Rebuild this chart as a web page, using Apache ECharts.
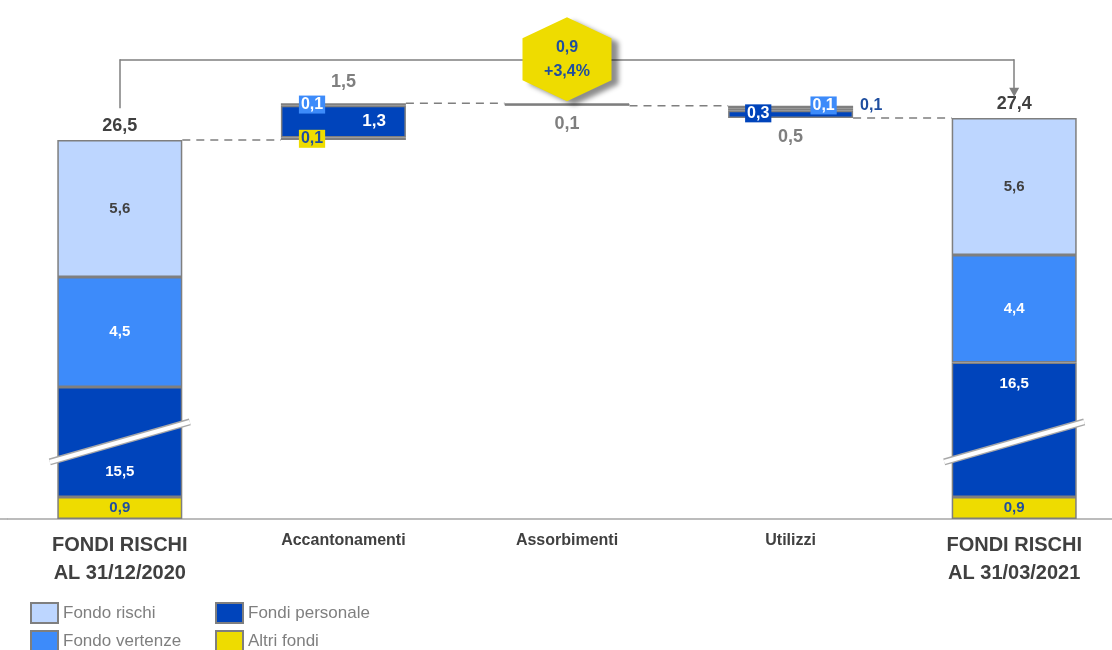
<!DOCTYPE html>
<html>
<head>
<meta charset="utf-8">
<script src="https://cdn.jsdelivr.net/npm/echarts@6/dist/echarts.min.js"></script>
<style>
  html, body { margin: 0; padding: 0; background: #fff; }
  #chart { width: 1112px; height: 650px; }
</style>
</head>
<body>
<div id="chart"></div>
<script>
// data
const categories = ["FONDI RISCHI\nAL 31/12/2020", "Accantonamenti", "Assorbimenti", "Utilizzi", "FONDI RISCHI\nAL 31/03/2021"];
const altriFondi = [0.9, 0.1, null, null, 0.9];
const fondiPersonale = [15.5, 1.3, null, 0.3, 16.5];
const fondoVertenze = [4.5, 0.1, null, 0.1, 4.4];
const fondoRischi = [5.6, null, null, 0.1, 5.6];
const assorbimenti = [null, null, 0.1, null, null];
const totals = [26.5, 1.5, 0.1, 0.5, 27.4];
const stepSign = [0, 1, -1, -1, 0]; // 0 = stock bar, +1 increase, -1 decrease
const deltaValue = "0,9";
const deltaPct = "+3,4%";

// amount cut out of the "Fondi personale" segment by the axis break
const BREAK = 11;
const BAR_W = 125;
const FONT = "Liberation Sans";
const BORDER = "#7F7F7F";
const C_RISCHI = "#BDD6FF", C_VERT = "#3D8BFA", C_PERS = "#0044BB", C_ALTRI = "#EEDC00";
const TXT_BLUE = "#1F4E9F";

const fmt = v => v.toFixed(1).replace(".", ",");

// running totals for the floating bars
const base = [];
const tops = [];
let running = 0;
totals.forEach((t, i) => {
  if (stepSign[i] === 0) { base.push(0); running = t; }
  else if (stepSign[i] > 0) { base.push(running - BREAK); running += t; }
  else { running -= t; base.push(running - BREAK); }
  tops.push(running - BREAK);
});

const isStock = i => stepSign[i] === 0;
const plotted = (v, i, cut) => (v == null ? "-" : (cut && isStock(i) ? v - BREAK : v));

const boxLabel = (bg, color) => ({
  show: true, backgroundColor: bg, color: color, padding: [2, 2, 0, 2],
  fontSize: 16, fontWeight: "bold", fontFamily: FONT
});

function segSeries(name, vals, color, labelFor, cut) {
  return {
    name: name, type: "bar", stack: "w", barWidth: BAR_W, z: 3,
    itemStyle: { color: color, borderColor: BORDER, borderWidth: 1.5 },
    data: vals.map((v, i) => {
      const p = plotted(v, i, cut);
      if (p === "-") return "-";
      return { value: p, label: Object.assign({ formatter: () => fmt(v) }, labelFor(i)) };
    })
  };
}

const stockLabel = (color) => ({ show: true, position: "inside", color: color, fontSize: 15, fontWeight: "bold", fontFamily: FONT });

const series = [
  {
    name: "base", type: "bar", stack: "w", barWidth: BAR_W, z: 3,
    itemStyle: { color: "transparent" },
    data: base.map((b, i) => ({
      value: b,
      label: stepSign[i] < 0 ? {
        show: true, position: "insideTop", distance: i === 2 ? 9 : 10,
        formatter: fmt(totals[i]), color: "#7F7F7F", fontSize: 18, fontWeight: "bold", fontFamily: FONT
      } : { show: false }
    }))
  },
  segSeries("Altri fondi", altriFondi, C_ALTRI, i =>
    isStock(i) ? stockLabel(TXT_BLUE)
      : Object.assign(boxLabel(C_ALTRI, TXT_BLUE), { position: "insideLeft", offset: [13, 0] })),
  segSeries("Fondi personale", fondiPersonale, C_PERS, i => {
    if (i === 0) return Object.assign(stockLabel("#fff"), { offset: [0, 30] });
    if (i === 4) return Object.assign(stockLabel("#fff"), { offset: [0, -46] });
    if (i === 1) return { show: true, position: "insideRight", distance: 20, color: "#fff", fontSize: 17, fontWeight: "bold", fontFamily: FONT };
    return Object.assign(boxLabel(C_PERS, "#fff"), { position: "insideLeft", offset: [12, -1] });
  }, true),
  segSeries("Fondo vertenze", fondoVertenze, C_VERT, i => {
    if (isStock(i)) return stockLabel("#fff");
    if (i === 1) return Object.assign(boxLabel(C_VERT, "#fff"), { position: "insideLeft", offset: [13, 0] });
    return Object.assign(boxLabel(C_VERT, "#fff"), { position: "inside", offset: [33, -4] });
  }),
  segSeries("Fondo rischi", fondoRischi, C_RISCHI, i =>
    isStock(i) ? stockLabel("#404040")
      : { show: true, position: "right", distance: 7, offset: [0, -1], color: TXT_BLUE, fontSize: 16, fontWeight: "bold", fontFamily: FONT }),
  {
    name: "Assorbimenti", type: "bar", stack: "w", barWidth: BAR_W, z: 3,
    itemStyle: { color: "#7F7F7F", borderColor: BORDER, borderWidth: 1 },
    data: assorbimenti.map(v => (v == null ? "-" : v))
  },
  {
    name: "totale", type: "bar", stack: "w", barWidth: BAR_W, z: 3,
    itemStyle: { color: "transparent", borderWidth: 0 },
    data: totals.map((t, i) => (stepSign[i] < 0 ? "-" : {
      value: 0,
      label: {
        show: true, position: "top", distance: i === 1 ? 12 : 5, formatter: fmt(t),
        color: i === 1 ? "#7F7F7F" : "#404040", fontSize: 18, fontWeight: "bold", fontFamily: FONT
      }
    }))
  },
  {
    // dashed connectors from one bar edge to the next
    name: "connectors", type: "custom", z: 1, silent: true,
    data: tops.slice(0, 4).map((t, i) => [i, t]),
    renderItem: (params, api) => {
      const i = api.value(0), y = api.value(1);
      const a = api.coord([i, y]);
      const b = api.coord([i + 1, y]);
      return {
        type: "line",
        shape: { x1: a[0] + BAR_W / 2, y1: a[1], x2: b[0] - BAR_W / 2, y2: b[1] },
        style: { stroke: "#7F7F7F", lineWidth: 1.5, lineDash: [8, 6] }
      };
    }
  }
];

// bracket + hexagon above
const BRACKET_Y = 18.8;
series.push({
  name: "delta", type: "line", data: [], z: 5, silent: true,
  markLine: {
    silent: true, symbol: "none", label: { show: false },
    lineStyle: { color: "#7F7F7F", type: "solid", width: 1.5 },
    data: [
      [{ coord: [categories[0], tops[0] + 1.3] }, { coord: [categories[0], BRACKET_Y] }],
      [{ coord: [categories[0], BRACKET_Y] }, { coord: [categories[4], BRACKET_Y] }],
      [{ coord: [categories[4], BRACKET_Y] },
       { coord: [categories[4], tops[4] + 1.05], symbol: "triangle", symbolSize: [10, 9], symbolRotate: 180 }]
    ]
  },
  markPoint: {
    silent: true,
    symbol: "path://M50,0 L100,25 L100,75 L50,100 L0,75 L0,25 Z",
    symbolSize: [89, 84],
    itemStyle: {
      color: "#EEDC00", shadowColor: "rgba(0,0,0,0.45)", shadowBlur: 5,
      shadowOffsetX: 7, shadowOffsetY: 4
    },
    label: {
      show: true, position: "inside", formatter: deltaValue + "\n" + deltaPct,
      color: TXT_BLUE, fontSize: 16, fontWeight: "bold", lineHeight: 24, fontFamily: FONT
    },
    data: [{ coord: [categories[2], BRACKET_Y] }]
  }
});

const chart = echarts.init(document.getElementById("chart"));
const legendItem = (name, left, top) => ({
  data: [name], left: left, top: top, icon: "rect", itemWidth: 27, itemHeight: 20,
  padding: 0, selectedMode: false,
  textStyle: { color: "#7F7F7F", fontSize: 17, fontFamily: FONT }
});
chart.setOption({
  animation: false,
  textStyle: { fontFamily: FONT },
  grid: { left: 8, width: 1118, top: 30, bottom: 131, outerBoundsMode: "none", containLabel: false },
  legend: [
    legendItem("Fondo rischi", 30, 602),
    legendItem("Fondo vertenze", 30, 630),
    legendItem("Fondi personale", 215, 602),
    legendItem("Altri fondi", 215, 630)
  ],
  xAxis: {
    type: "category", data: categories,
    axisLine: { lineStyle: { color: "#A6A6A6", width: 1.5 } },
    axisTick: { show: false },
    axisLabel: {
      margin: 12, interval: 0,
      formatter: v => (v.indexOf("\n") >= 0 ? v.split("\n").map(s => "{a|" + s + "}").join("\n") : "{b|" + v + "}"),
      rich: {
        a: { fontSize: 20, lineHeight: 28, fontWeight: "bold", color: "#404040", fontFamily: FONT },
        b: { fontSize: 16, lineHeight: 20, fontWeight: "bold", color: "#404040", fontFamily: FONT }
      }
    }
  },
  yAxis: { type: "value", min: 0, max: 20, show: false },
  series: series
});

// axis-break markers across the "Fondi personale" segments of the stock bars
const BREAK_AT = 3.15;
const graphics = [
  // axis line continues to the left page edge as in the original
  { type: "line", shape: { x1: 0, y1: 0, x2: 8, y2: 0 }, y: chart.convertToPixel({ yAxisIndex: 0 }, 0), style: { stroke: "#A6A6A6", lineWidth: 1.5 } }
];
[0, 4].forEach(i => {
  const p = chart.convertToPixel({ xAxisIndex: 0, yAxisIndex: 0 }, [i, BREAK_AT]);
  const shape = { x1: p[0] - 70, y1: p[1] + 20, x2: p[0] + 70, y2: p[1] - 20 };
  graphics.push({ type: "line", shape: shape, z: 10, style: { stroke: "#A8A8A8", lineWidth: 7 } });
  graphics.push({ type: "line", shape: shape, z: 11, style: { stroke: "#fff", lineWidth: 4 } });
});
chart.setOption({ graphic: graphics });
</script>
</body>
</html>
